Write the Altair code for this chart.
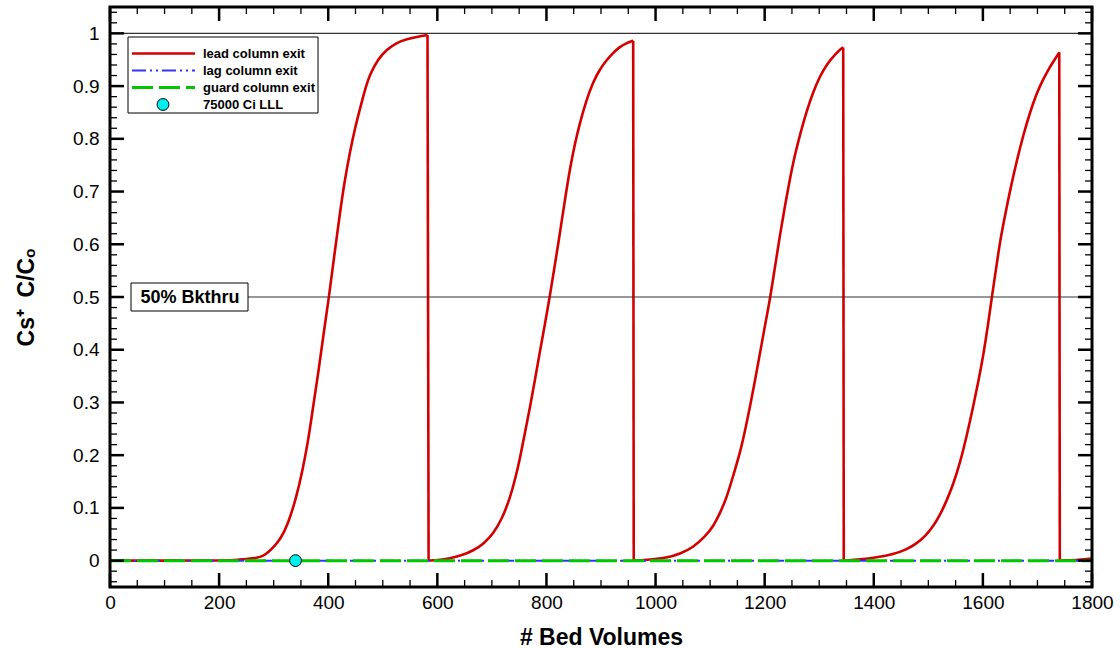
import altair as alt
import pandas as pd

# ---------------- data ----------------
lead_x = [0, 200, 230, 250, 270, 281, 290, 300, 312, 326, 342, 352, 363, 372, 382, 391, 401,
          411, 421, 430, 440, 449, 458, 467, 476, 492, 507, 525, 544, 565, 582, 584,
          600, 623, 645, 666, 685, 703, 718, 733, 742, 751, 760, 770, 779, 788, 797, 806,
          815, 825, 834, 843, 852, 861, 873, 886, 898, 910, 922, 935, 946, 956, 959, 960,
          990, 1020, 1045, 1069, 1090, 1106, 1118, 1130, 1142, 1155, 1164, 1173, 1182,
          1191, 1200, 1210, 1219, 1228, 1237, 1246, 1255, 1265, 1277, 1289, 1301, 1314, 1330,
          1341, 1344, 1345,
          1375, 1405, 1436, 1460, 1478, 1495, 1509, 1521, 1533, 1546, 1558, 1570, 1582,
          1592, 1601, 1609, 1616, 1624, 1631, 1640, 1650, 1662, 1674, 1686, 1698, 1710, 1723,
          1732, 1739, 1740, 1741, 1770, 1800]
lead_y = [0, 0, 0.001, 0.003, 0.005, 0.009, 0.016, 0.026, 0.04, 0.068, 0.122, 0.167, 0.225,
          0.29, 0.357, 0.427, 0.497, 0.578, 0.656, 0.72, 0.776, 0.82, 0.856, 0.892, 0.922,
          0.952, 0.969, 0.982, 0.989, 0.994, 0.997, 0.0,
          0.001, 0.004, 0.01, 0.019, 0.032, 0.052, 0.078, 0.118, 0.152, 0.191, 0.24,
          0.291, 0.343, 0.397, 0.447, 0.5, 0.558, 0.623, 0.685, 0.743, 0.79, 0.829, 0.873,
          0.909, 0.932, 0.949, 0.963, 0.975, 0.981, 0.985, 0.986, 0.0,
          0.002, 0.005, 0.013, 0.025, 0.045, 0.065, 0.09, 0.118, 0.16, 0.205, 0.246,
          0.291, 0.34, 0.391, 0.443, 0.497, 0.558, 0.617, 0.672, 0.723, 0.768, 0.809, 0.853,
          0.889, 0.918, 0.942, 0.961, 0.972, 0.973, 0.0,
          0.002, 0.006, 0.012, 0.021, 0.032, 0.047, 0.065, 0.086, 0.112, 0.146, 0.185,
          0.235, 0.291, 0.341, 0.391, 0.444, 0.497, 0.552, 0.603, 0.652, 0.703, 0.758, 0.807,
          0.849, 0.885, 0.912, 0.937, 0.951, 0.962, 0.964, 0.0, 0.001, 0.004]
lag_x = [0, 1800]
lag_y = [0, 0]
guard_x = [0, 1800]
guard_y = [0, 0]
lll_x = [340]
lll_y = [0]

x_major = [0, 200, 400, 600, 800, 1000, 1200, 1400, 1600, 1800]
x_minor = [v for v in range(50, 1800, 50) if v % 200 != 0]
y_major = [0, 0.1, 0.2, 0.3, 0.4, 0.5, 0.6, 0.7, 0.8, 0.9, 1]
y_minor = [round(-0.04 + 0.02 * i, 2) for i in range(55)]
y_minor = [v for v in y_minor if abs(v * 10 - round(v * 10)) > 1e-6]
ref_top = [1.0]
ref_half = [0.5]

legend_labels = ["lead column exit", "lag column exit", "guard column exit", "75000 Ci LLL"]
x_title = "# Bed Volumes"
y_title = "Cs\u207a\u2002C/C\u2092"
bk_label = "50% Bkthru"

# ---------------- split the lead curve into rising parts and sudden drops ----------------
rise_rows, drop_rows = [], []
seg = 0
for i, (bx, cy) in enumerate(zip(lead_x, lead_y)):
    if i > 0 and cy == 0 and lead_y[i - 1] > 0.5:
        drop_rows.append({"bv": lead_x[i - 1], "c": lead_y[i - 1], "s": seg})
        drop_rows.append({"bv": bx, "c": cy, "s": seg})
        seg += 1
    rise_rows.append({"bv": bx, "c": cy, "s": seg, "i": i})
rise_df = pd.DataFrame(rise_rows)
drop_df = pd.DataFrame(drop_rows)

# ---------------- style ----------------
FONT = "Liberation Sans"
RED = "#D40000"
BLUE = "#3333FF"
GREEN = "#00C800"
CYAN = "#00F0F0"
W, H = 982, 580

xs = alt.Scale(domain=[0, 1800], nice=False, zero=False)
ys = alt.Scale(domain=[-0.05, 1.05], nice=False, zero=False)
one = alt.Data(values=[{"a": 0}])

lag_df = pd.DataFrame({"bv": lag_x, "c": lag_y})
guard_df = pd.DataFrame({"bv": guard_x, "c": guard_y})
lll_df = pd.DataFrame({"bv": lll_x, "c": lll_y})

x_axis = alt.Axis(values=x_major, format="d", ticks=False, domain=False, grid=False,
                  labelFlush=False, labelFont=FONT, labelFontSize=19, labelColor="black",
                  labelPadding=6, title=x_title, titleFont=FONT, titleFontSize=23,
                  titleFontWeight="bold", titleColor="black", titleY=57,
                  titleBaseline="alphabetic")
y_axis = alt.Axis(values=y_major, format="~g", ticks=False, domain=False, grid=False,
                  labelFlush=False, labelFont=FONT, labelFontSize=19, labelColor="black",
                  labelPadding=11, title=y_title, titleFont=FONT, titleFontSize=23,
                  titleFontWeight="bold", titleColor="black", titleAngle=270, titleX=-84,
                  titleY=290, titleAlign="center", titleBaseline="middle")


def X(field):
    return alt.X(field, type="quantitative", scale=xs, axis=x_axis)


def Y(field):
    return alt.Y(field, type="quantitative", scale=ys, axis=y_axis)


layers = []

# data series
layers.append(alt.Chart(rise_df).mark_line(color=RED, strokeWidth=2.6, interpolate="basis")
              .encode(x=X("bv"), y=Y("c"), detail="s:N", order=alt.Order("i:Q")))
layers.append(alt.Chart(drop_df).mark_line(color=RED, strokeWidth=2.6)
              .encode(x=X("bv"), y=Y("c"), detail="s:N"))
layers.append(alt.Chart(lag_df).mark_line(color=BLUE, strokeWidth=2, strokeDash=[14, 4, 2, 4, 2, 4])
              .encode(x=X("bv"), y=Y("c")))
layers.append(alt.Chart(guard_df).mark_line(color=GREEN, strokeWidth=3, strokeDash=[21, 6])
              .encode(x=X("bv"), y=Y("c")))

# reference lines
layers.append(alt.Chart(pd.DataFrame({"c": ref_top})).mark_rule(color="#333333", strokeWidth=1.2)
              .encode(y=Y("c"), x=alt.value(0), x2=alt.value(W)))
layers.append(alt.Chart(pd.DataFrame({"c": ref_half})).mark_rule(color="#333333", strokeWidth=1.2)
              .encode(y=Y("c"), x=alt.value(138), x2=alt.value(W)))

layers.append(alt.Chart(lll_df).mark_circle(size=140, color=CYAN, opacity=1, stroke="black", strokeWidth=1)
              .encode(x=X("bv"), y=Y("c")))


# inward ticks on all four sides
def xticks(vals, length, width):
    d = pd.DataFrame({"bv": vals})
    base = alt.Chart(d).mark_rule(color="black", strokeWidth=width)
    return [base.encode(x=X("bv"), y=alt.value(H), y2=alt.value(H - length)),
            base.encode(x=X("bv"), y=alt.value(0), y2=alt.value(length))]


def yticks(vals, length, width):
    d = pd.DataFrame({"c": vals})
    base = alt.Chart(d).mark_rule(color="black", strokeWidth=width)
    return [base.encode(y=Y("c"), x=alt.value(0), x2=alt.value(length)),
            base.encode(y=Y("c"), x=alt.value(W), x2=alt.value(W - length))]


layers += xticks(x_major, 14, 2.5) + xticks(x_minor, 7, 1.3)
layers += yticks(y_major, 14, 2.5) + yticks(y_minor, 7, 1.3)

# plot frame
layers.append(alt.Chart(one).mark_rect(fill="white", fillOpacity=0, stroke="black", strokeWidth=3)
              .encode(x=alt.value(0), x2=alt.value(W), y=alt.value(0), y2=alt.value(H)))

# 50% breakthrough label
layers.append(alt.Chart(one).mark_rect(fill="white", stroke="black", strokeWidth=1)
              .encode(x=alt.value(21), x2=alt.value(138), y=alt.value(276), y2=alt.value(304)))
layers.append(alt.Chart(one).mark_text(text=bk_label, font=FONT, fontSize=18, fontWeight="bold",
                                       color="black", align="center", baseline="middle")
              .encode(x=alt.value(80), y=alt.value(291)))

# legend
layers.append(alt.Chart(one).mark_rect(fill="white", stroke="black", strokeWidth=1)
              .encode(x=alt.value(18), x2=alt.value(208), y=alt.value(30), y2=alt.value(106)))
row_y = [46.5, 63.5, 80.5, 97.5]
layers.append(alt.Chart(one).mark_rule(color=RED, strokeWidth=2.6)
              .encode(x=alt.value(22), x2=alt.value(85), y=alt.value(row_y[0])))
layers.append(alt.Chart(one).mark_rule(color=BLUE, strokeWidth=2, strokeDash=[14, 4, 2, 4, 2, 4])
              .encode(x=alt.value(22), x2=alt.value(85), y=alt.value(row_y[1])))
layers.append(alt.Chart(one).mark_rule(color=GREEN, strokeWidth=3, strokeDash=[21, 6])
              .encode(x=alt.value(22), x2=alt.value(85), y=alt.value(row_y[2])))
layers.append(alt.Chart(one).mark_circle(size=140, color=CYAN, opacity=1, stroke="black", strokeWidth=1)
              .encode(x=alt.value(53), y=alt.value(row_y[3])))
for lab, yy in zip(legend_labels, row_y):
    layers.append(alt.Chart(one).mark_text(text=lab, font=FONT, fontSize=13, fontWeight="bold",
                                           color="black", align="left", baseline="middle")
                  .encode(x=alt.value(93), y=alt.value(yy)))

chart = (alt.layer(*layers)
         .properties(width=W, height=H,
                     autosize=alt.AutoSizeParams(type="none"),
                     padding={"left": 110, "top": 7, "right": 28, "bottom": 61},
                     background="white")
         .configure_view(stroke="black", strokeWidth=3)
         .configure(font=FONT))

chart.save("out.html", embed_options={"renderer": "svg", "actions": False})
